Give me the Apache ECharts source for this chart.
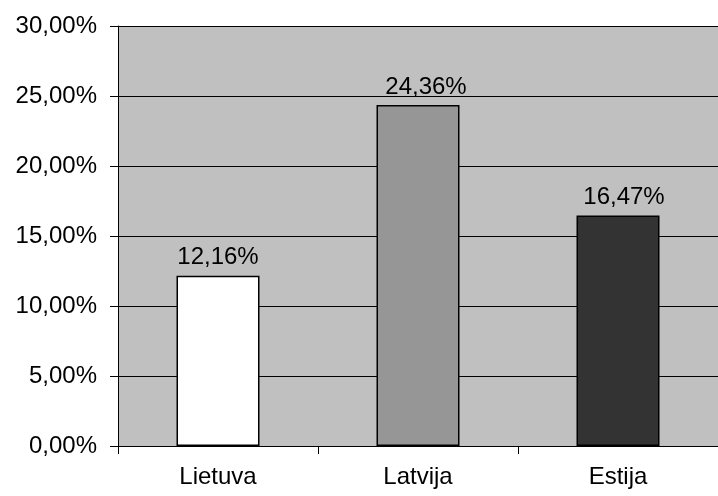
<!DOCTYPE html>
<html>
<head>
<meta charset="utf-8">
<style>
  html, body { margin: 0; padding: 0; background: #fff; }
  #chart { width: 718px; height: 496px; }
</style>
<script src="https://cdn.jsdelivr.net/npm/echarts@6/dist/echarts.min.js"></script>
</head>
<body>
<div id="chart"></div>
<script>
// šalys ir reikšmės (%)
var categories = ['Lietuva', 'Latvija', 'Estija'];
var values = [12.16, 24.36, 16.47];
var barColors = ['#ffffff', '#969696', '#333333'];

function pct(v) {
  return v.toFixed(2).replace('.', ',') + '%';
}

// the original labels sit a bit right of the bar centre on the 2nd and 3rd bars
var labelShift = [0, 8, 6];

var chart = echarts.init(document.getElementById('chart'));

chart.setOption({
  animation: false,
  textStyle: { fontFamily: 'Liberation Sans, Arial, sans-serif' },
  grid: {
    left: 118,
    right: 0,
    top: 26,
    bottom: 50,
    show: true,
    backgroundColor: '#c0c0c0',
    borderWidth: 0
  },
  xAxis: {
    type: 'category',
    data: categories,
    axisLine: { lineStyle: { color: '#000', width: 1 } },
    axisTick: { show: true, length: 8, lineStyle: { color: '#000' } },
    axisLabel: { color: '#000', fontSize: 24, margin: 19 }
  },
  yAxis: {
    type: 'value',
    min: 0,
    max: 30,
    interval: 5,
    axisLine: { show: true, lineStyle: { color: '#000', width: 1 } },
    axisTick: { show: true, length: 8, lineStyle: { color: '#000' } },
    axisLabel: {
      color: '#000',
      fontSize: 24,
      margin: 21,
      formatter: function (v) { return pct(v); }
    },
    splitLine: { show: true, lineStyle: { color: '#000', width: 1 } }
  },
  series: [{
    type: 'bar',
    barWidth: '41.5%',
    data: values.map(function (v, i) {
      return {
        value: v,
        itemStyle: { color: barColors[i], borderColor: '#000', borderWidth: 1.5 },
        label: { offset: [labelShift[i], 0] }
      };
    }),
    label: {
      show: true,
      position: 'top',
      distance: 6,
      color: '#000',
      fontSize: 24,
      formatter: function (p) { return pct(p.value); }
    }
  }]
});
</script>
</body>
</html>
